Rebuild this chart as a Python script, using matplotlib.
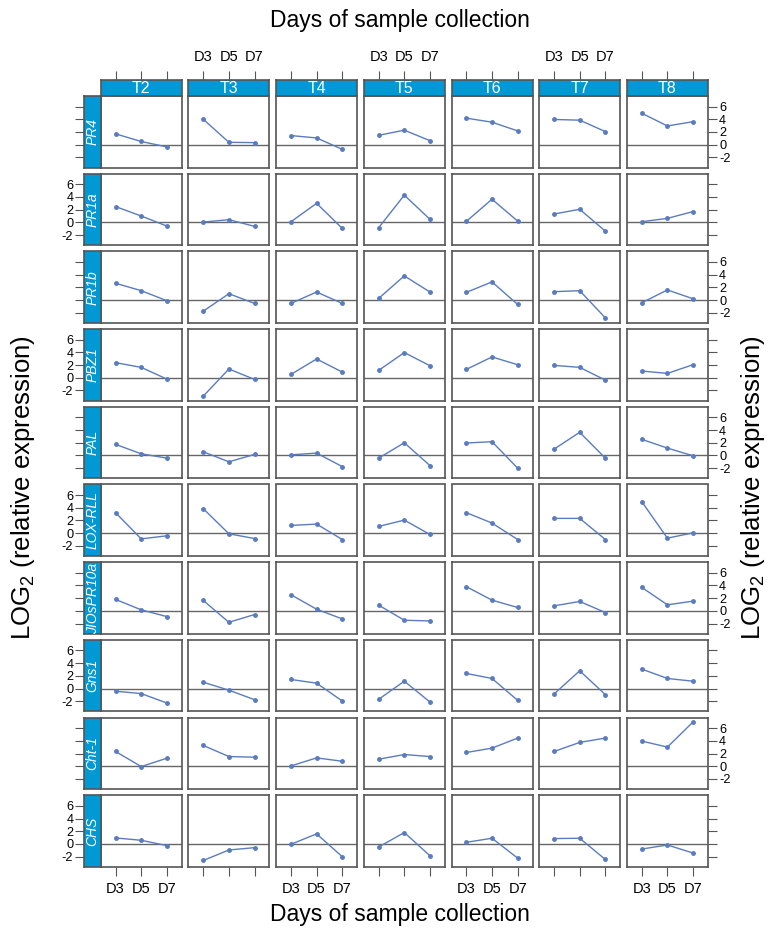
import numpy as np
import matplotlib
matplotlib.use("Agg")
import matplotlib.pyplot as plt

plt.rcParams["font.family"] = ["Liberation Sans", "DejaVu Sans"]
plt.rcParams["mathtext.fontset"] = "custom"
plt.rcParams["mathtext.rm"] = "Liberation Sans"

# treatments (columns) and genes (rows)
treatments = ["T2", "T3", "T4", "T5", "T6", "T7", "T8"]
genes = ["PR4", "PR1a", "PR1b", "PBZ1", "PAL", "LOX-RLL", "JIOsPR10a", "Gns1", "Cht-1", "CHS"]
days = ["D3", "D5", "D7"]

# log2 relative expression, one list per gene, [treatment][day]
PR4 = [[1.7, 0.5, -0.35], [4.0, 0.37, 0.32], [1.43, 1.06, -0.74], [1.48, 2.28, 0.63],
       [4.18, 3.54, 2.17], [3.97, 3.86, 2.06], [4.95, 2.95, 3.62]]
PR1a = [[2.49, 1.0, -0.58], [0.05, 0.42, -0.63], [0.1, 3.0, -0.95], [-0.85, 4.29, 0.48],
        [0.16, 3.65, 0.2], [1.32, 2.06, -1.38], [0.1, 0.63, 1.7]]
PR1b = [[2.65, 1.48, -0.1], [-1.75, 1.0, -0.53], [-0.53, 1.27, -0.53], [0.26, 3.81, 1.27],
        [1.22, 2.86, -0.69], [1.32, 1.48, -2.8], [-0.42, 1.59, 0.21]]
PBZ1 = [[2.38, 1.64, -0.21], [-2.9, 1.38, -0.26], [0.53, 2.96, 0.9], [1.16, 3.97, 1.9],
        [1.32, 3.28, 2.06], [1.95, 1.64, -0.37], [1.06, 0.69, 2.06]]
PAL = [[1.75, 0.26, -0.42], [0.58, -1.0, 0.16], [0.1, 0.37, -1.75], [-0.42, 2.0, -1.59],
       [1.96, 2.17, -2.0], [1.0, 3.65, -0.42], [2.54, 1.16, -0.05]]
LOX_RLL = [[3.23, -0.9, -0.42], [3.86, -0.1, -0.85], [1.22, 1.43, -1.0], [1.06, 2.06, -0.21],
           [3.23, 1.59, -1.0], [2.33, 2.33, -1.0], [4.97, -0.79, 0.05]]
JIOsPR10a = [[1.8, 0.16, -0.9], [1.64, -1.8, -0.58], [2.54, 0.26, -1.27], [0.9, -1.48, -1.59],
             [3.81, 1.69, 0.53], [0.79, 1.48, -0.26], [3.7, 0.95, 1.53]]
Gns1 = [[-0.42, -0.79, -2.28], [1.0, -0.26, -1.75], [1.43, 0.85, -1.96], [-1.69, 1.16, -2.12],
        [2.38, 1.59, -1.85], [-0.85, 2.8, -0.95], [3.07, 1.59, 1.16]]
Cht_1 = [[2.33, -0.05, 1.27], [3.28, 1.53, 1.43], [0.05, 1.32, 0.79], [1.11, 1.85, 1.53],
         [2.17, 2.86, 4.44], [2.33, 3.76, 4.44], [3.97, 3.02, 6.98]]
CHS = [[0.95, 0.58, -0.26], [-2.6, -0.95, -0.58], [-0.05, 1.59, -2.0], [-0.48, 1.8, -1.85],
       [0.26, 0.9, -2.23], [0.85, 0.9, -2.44], [-0.8, -0.16, -1.43]]

values = [PR4, PR1a, PR1b, PBZ1, PAL, LOX_RLL, JIOsPR10a, Gns1, Cht_1, CHS]
yticks = [-2, 0, 2, 4, 6]

W, H = 772, 930
strip_col = "#0099d6"
line_col = "#5a7cbf"
frame_col = "#555555"

fig = plt.figure(figsize=(W / 100, H / 100), dpi=100)

# panel geometry in pixels
x0, pw, xstep = 100.7, 81.0, 87.7
y0, ph, ystep = 96.0, 71.5, 77.7
sw = 16.3   # gene strip width
sh = 16.5   # treatment strip height
xlim = (0.42, 3.58)
ylim = (-3.6, 7.67)
xs = np.arange(1, 4)


def rect(left, top, w, h):
    return [left / W, 1 - (top + h) / H, w / W, h / H]


def style_frame(ax):
    for s in ax.spines.values():
        s.set_color(frame_col)
        s.set_linewidth(1.2)


for r, g in enumerate(genes):
    top = y0 + r * ystep
    for c, t in enumerate(treatments):
        left = x0 + c * xstep
        ax = fig.add_axes(rect(left, top, pw, ph))
        ax.axhline(0, color="#666666", lw=1.0, zorder=1)
        ax.plot(xs, values[r][c], color=line_col, lw=1.0, marker="o", ms=2.5, zorder=2)
        ax.set_xlim(*xlim)
        ax.set_ylim(*ylim)
        style_frame(ax)
        ax.tick_params(length=6.5, width=0.8, color=frame_col, direction="out")
        ax.set_yticks([])
        # bottom x ticks on last row
        if r == len(genes) - 1:
            ax.set_xticks(xs)
            ax.tick_params(axis="x", pad=4.5)
            if c % 2 == 0:
                ax.set_xticklabels(days, fontsize=10.5)
            else:
                ax.set_xticklabels([])
        else:
            ax.set_xticks([])
        # right y ticks on last column
        if c == len(treatments) - 1:
            ax.yaxis.tick_right()
            ax.set_yticks(yticks)
            ax.tick_params(axis="y", pad=1.5)
            if r % 2 == 0:
                ax.set_yticklabels([str(v) for v in yticks], fontsize=9.2)
            else:
                ax.set_yticklabels([])

        # treatment strip above the first row
        if r == 0:
            st = fig.add_axes(rect(left, top - sh, pw, sh))
            st.set_facecolor(strip_col)
            st.set_xlim(*xlim)
            st.set_ylim(0, 1)
            style_frame(st)
            st.text(0.5, 0.45, t, transform=st.transAxes, ha="center", va="center",
                    color="white", fontsize=11.5)
            st.xaxis.tick_top()
            st.set_xticks(xs)
            st.set_yticks([])
            st.tick_params(length=6.5, width=0.8, color=frame_col, pad=5)
            if c % 2 == 1:
                st.set_xticklabels(days, fontsize=10.5)
            else:
                st.set_xticklabels([])

    # gene strip on the left
    gs = fig.add_axes(rect(x0 - sw, top, sw, ph))
    gs.set_facecolor(strip_col)
    gs.set_ylim(*ylim)
    style_frame(gs)
    gs.set_xticks([])
    gs.set_yticks(yticks)
    gs.tick_params(length=6.5, width=0.8, color=frame_col, pad=1.5)
    if r % 2 == 1:
        gs.set_yticklabels([str(v) for v in yticks], fontsize=9.2)
    else:
        gs.set_yticklabels([])
    gs.text(0.5, 0.5, g, transform=gs.transAxes, ha="center", va="center",
            rotation=90, color="white", fontsize=10, style="italic", clip_on=True)

# axis titles
fig.text(400 / W, 1 - 20 / H, "Days of sample collection", ha="center", va="center",
         fontsize=16.5)
fig.text(400 / W, 1 - 914 / H, "Days of sample collection", ha="center", va="center",
         fontsize=16.5)
ylab = r"LOG$_\mathregular{2}$ (relative expression)"
fig.text(23 / W, 1 - 488 / H, ylab, rotation=90, ha="center", va="center", fontsize=18.5)
fig.text(753 / W, 1 - 488 / H, ylab, rotation=90, ha="center", va="center", fontsize=18.5)

fig.savefig("out.png", dpi=100)
